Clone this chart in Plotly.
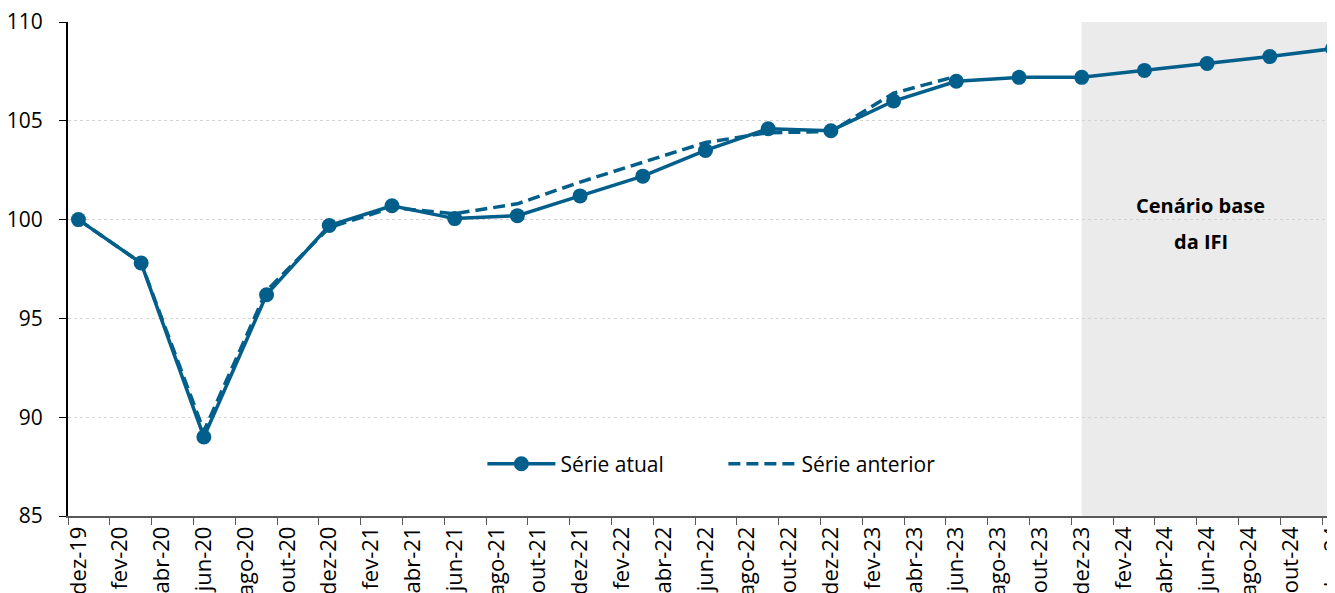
import plotly.graph_objects as go

# ---- data ----
month_abbr = ["jan", "fev", "mar", "abr", "mai", "jun", "jul", "ago", "set", "out", "nov", "dez"]
months = ["dez-19"] + [f"{m}-{y}" for y in ["20", "21", "22", "23", "24"] for m in month_abbr]

quarters_atual = ["dez-19", "mar-20", "jun-20", "set-20", "dez-20", "mar-21", "jun-21", "set-21",
                  "dez-21", "mar-22", "jun-22", "set-22", "dez-22", "mar-23", "jun-23", "set-23",
                  "dez-23", "mar-24", "jun-24", "set-24", "dez-24"]
serie_atual = [100.0, 97.8, 89.0, 96.2, 99.7, 100.7, 100.05, 100.2, 101.2, 102.2, 103.5, 104.6,
               104.5, 106.0, 107.0, 107.2, 107.2, 107.55, 107.9, 108.25, 108.65]

quarters_anterior = quarters_atual[:15]
serie_anterior = [100.0, 97.8, 89.3, 96.4, 99.6, 100.6, 100.3, 100.8, 101.9, 102.9, 103.9, 104.4,
                  104.45, 106.4, 107.25]

forecast_start = "dez-23"
y_ticks = [85, 90, 95, 100, 105, 110]

COLOR = "#025E8A"
FONT = "Open Sans"

fig = go.Figure()

fig.add_trace(go.Scatter(
    x=quarters_atual, y=serie_atual, name="Série atual", mode="lines+markers",
    line=dict(color=COLOR, width=3.5),
    marker=dict(color=COLOR, size=15),
))
fig.add_trace(go.Scatter(
    x=quarters_anterior, y=serie_anterior, name="Série anterior", mode="lines",
    line=dict(color=COLOR, width=3.5, dash="12px,6px"),
))

# shaded forecast region
idx0 = months.index(forecast_start)
fig.add_shape(type="rect", xref="x", yref="y", x0=idx0, x1=len(months) - 0.5,
              y0=y_ticks[0], y1=y_ticks[-1], fillcolor="#EBEBEB", line_width=0, layer="below")

fig.add_annotation(x=idx0 + 5.7, y=100.7, xref="x", yref="y", text="<b>Cenário base</b>",
                   showarrow=False, font=dict(family=FONT, size=20, color="#000000"))
fig.add_annotation(x=idx0 + 5.7, y=98.9, xref="x", yref="y", text="<b>da IFI</b>",
                   showarrow=False, font=dict(family=FONT, size=20, color="#000000"))

fig.update_layout(
    width=1335, height=585,
    margin=dict(l=60, r=0, t=14, b=77, autoexpand=False),
    paper_bgcolor="white", plot_bgcolor="white",
    font=dict(family=FONT, color="#000000"),
    showlegend=True,
    legend=dict(orientation="h", x=0.325, y=0.105, xanchor="left", yanchor="middle",
                font=dict(family=FONT, size=21, color="#000000"),
                itemwidth=68, bgcolor="rgba(0,0,0,0)", entrywidth=158),
    xaxis=dict(
        type="category", categoryorder="array", categoryarray=months,
        range=[-0.5, 60.5], tickmode="linear", tick0=0, dtick=2,
        tickson="boundaries", ticks="outside", ticklen=7, tickcolor="#595959", tickwidth=1.3,
        tickangle=-90, tickfont=dict(family=FONT, size=22, color="#000000"),
        ticklabeloverflow="allow",
        showline=True, linecolor="#595959", linewidth=1.5,
        showgrid=False, zeroline=False, automargin=False,
    ),
    yaxis=dict(
        range=[85, 110], tickvals=y_ticks, ticks="outside", ticklen=7, tickcolor="#000000",
        tickfont=dict(family=FONT, size=21, color="#000000"), ticklabelstandoff=12,
        ticklabeloverflow="allow",
        showline=True, linecolor="#000000", linewidth=2,
        showgrid=True, gridcolor="#D4D4D4", gridwidth=1, griddash="dot",
        zeroline=False, automargin=False,
    ),
)

fig.write_html("out.html")
